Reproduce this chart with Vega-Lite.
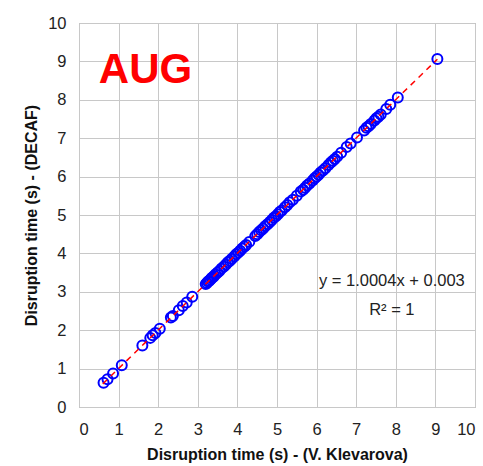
{
  "$schema": "https://vega.github.io/schema/vega-lite/v6.json",
  "width": 396,
  "height": 384,
  "autosize": {"type": "none"},
  "padding": {"left": 79, "top": 23, "right": 8, "bottom": 59},
  "background": "white",
  "config": {
    "font": "Liberation Sans",
    "view": {"stroke": "#a0a0a0", "strokeWidth": 1},
    "axis": {
      "grid": true, "gridColor": "#c8c8c8", "gridWidth": 1, "domain": false, "ticks": false, "labelOverlap": false,
      "labelFont": "Liberation Sans", "labelFontSize": 16.5, "labelColor": "#222",
      "titleFont": "Liberation Sans", "titleFontSize": 16, "titleFontWeight": "bold", "titleColor": "#111"
    }
  },
  "datasets": {
    "pts": [
      {"x": 0.62, "y": 0.63}, {"x": 0.72, "y": 0.72}, {"x": 0.86, "y": 0.87}, {"x": 1.08, "y": 1.09},
      {"x": 1.6, "y": 1.6}, {"x": 1.8, "y": 1.8}, {"x": 1.86, "y": 1.87}, {"x": 1.93, "y": 1.93}, {"x": 2.04, "y": 2.04},
      {"x": 2.32, "y": 2.33}, {"x": 2.37, "y": 2.37}, {"x": 2.52, "y": 2.52}, {"x": 2.62, "y": 2.63}, {"x": 2.72, "y": 2.72}, {"x": 2.86, "y": 2.87},
      {"x": 3.2, "y": 3.2}, {"x": 3.23, "y": 3.23}, {"x": 3.26, "y": 3.27}, {"x": 3.29, "y": 3.29}, {"x": 3.32, "y": 3.32},
      {"x": 3.35, "y": 3.36}, {"x": 3.38, "y": 3.38}, {"x": 3.41, "y": 3.41}, {"x": 3.45, "y": 3.46}, {"x": 3.5, "y": 3.5},
      {"x": 3.55, "y": 3.55}, {"x": 3.6, "y": 3.61}, {"x": 3.66, "y": 3.66}, {"x": 3.71, "y": 3.71}, {"x": 3.76, "y": 3.77},
      {"x": 3.81, "y": 3.81}, {"x": 3.86, "y": 3.86}, {"x": 3.92, "y": 3.92}, {"x": 3.97, "y": 3.98}, {"x": 4.02, "y": 4.02},
      {"x": 4.07, "y": 4.07}, {"x": 4.12, "y": 4.13}, {"x": 4.18, "y": 4.18}, {"x": 4.22, "y": 4.22}, {"x": 4.3, "y": 4.3},
      {"x": 4.45, "y": 4.45}, {"x": 4.5, "y": 4.5}, {"x": 4.55, "y": 4.56}, {"x": 4.6, "y": 4.6}, {"x": 4.65, "y": 4.65},
      {"x": 4.7, "y": 4.71}, {"x": 4.76, "y": 4.76}, {"x": 4.82, "y": 4.82}, {"x": 4.87, "y": 4.87}, {"x": 4.92, "y": 4.93},
      {"x": 4.97, "y": 4.97}, {"x": 5.02, "y": 5.02}, {"x": 5.07, "y": 5.08}, {"x": 5.12, "y": 5.12}, {"x": 5.2, "y": 5.2},
      {"x": 5.26, "y": 5.26}, {"x": 5.32, "y": 5.33}, {"x": 5.4, "y": 5.4}, {"x": 5.5, "y": 5.5}, {"x": 5.6, "y": 5.61},
      {"x": 5.66, "y": 5.66}, {"x": 5.71, "y": 5.71}, {"x": 5.76, "y": 5.77}, {"x": 5.82, "y": 5.82}, {"x": 5.9, "y": 5.9},
      {"x": 5.95, "y": 5.96}, {"x": 6.0, "y": 6.0}, {"x": 6.05, "y": 6.05}, {"x": 6.1, "y": 6.11}, {"x": 6.16, "y": 6.16},
      {"x": 6.22, "y": 6.22}, {"x": 6.3, "y": 6.3}, {"x": 6.36, "y": 6.37}, {"x": 6.41, "y": 6.41}, {"x": 6.46, "y": 6.46},
      {"x": 6.52, "y": 6.52}, {"x": 6.62, "y": 6.62}, {"x": 6.76, "y": 6.77}, {"x": 6.86, "y": 6.86}, {"x": 7.02, "y": 7.02},
      {"x": 7.2, "y": 7.2}, {"x": 7.26, "y": 7.27}, {"x": 7.31, "y": 7.31}, {"x": 7.37, "y": 7.37}, {"x": 7.46, "y": 7.46},
      {"x": 7.51, "y": 7.52}, {"x": 7.56, "y": 7.56}, {"x": 7.62, "y": 7.62}, {"x": 7.76, "y": 7.76}, {"x": 7.86, "y": 7.87},
      {"x": 8.05, "y": 8.06}, {"x": 9.05, "y": 9.06}
    ],
    "trend": [{"x": 0.6, "y": 0.603}, {"x": 9.05, "y": 9.057}],
    "labels": [
      {"x": 0.5, "y": 8.45, "t": "AUG"}
    ],
    "eq": [
      {"x": 7.9, "y": 3.15, "t": "y = 1.0004x + 0.003"},
      {"x": 7.9, "y": 2.4, "t": "R² = 1"}
    ]
  },
  "encoding": {
    "x": {"field": "x", "type": "quantitative", "scale": {"domain": [0, 10], "nice": false}, "axis": {"values": [0,1,2,3,4,5,6,7,8,9,10], "title": "Disruption time (s) - (V. Klevarova)", "labelPadding": 14, "titlePadding": 9}},
    "y": {"field": "y", "type": "quantitative", "scale": {"domain": [0, 10], "nice": false}, "axis": {"values": [0,1,2,3,4,5,6,7,8,9,10], "title": "Disruption time (s) - (DECAF)", "labelPadding": 13, "titlePadding": 8}}
  },
  "layer": [
    {
      "data": {"name": "pts"},
      "mark": {"type": "point", "shape": "circle", "filled": false, "color": "#0000ff", "strokeWidth": 2, "size": 100, "opacity": 1}
    },
    {
      "data": {"name": "trend"},
      "mark": {"type": "line", "color": "#ff0000", "strokeWidth": 1.5, "strokeDash": [6, 5]}
    },
    {
      "data": {"name": "labels"},
      "mark": {"type": "text", "align": "left", "baseline": "alphabetic", "fontSize": 42, "fontWeight": "bold", "color": "#ff0000", "font": "Liberation Sans"},
      "encoding": {"text": {"field": "t"}}
    },
    {
      "data": {"name": "eq"},
      "mark": {"type": "text", "align": "center", "baseline": "alphabetic", "fontSize": 16.5, "color": "#222", "font": "Liberation Sans"},
      "encoding": {"text": {"field": "t"}}
    }
  ]
}
